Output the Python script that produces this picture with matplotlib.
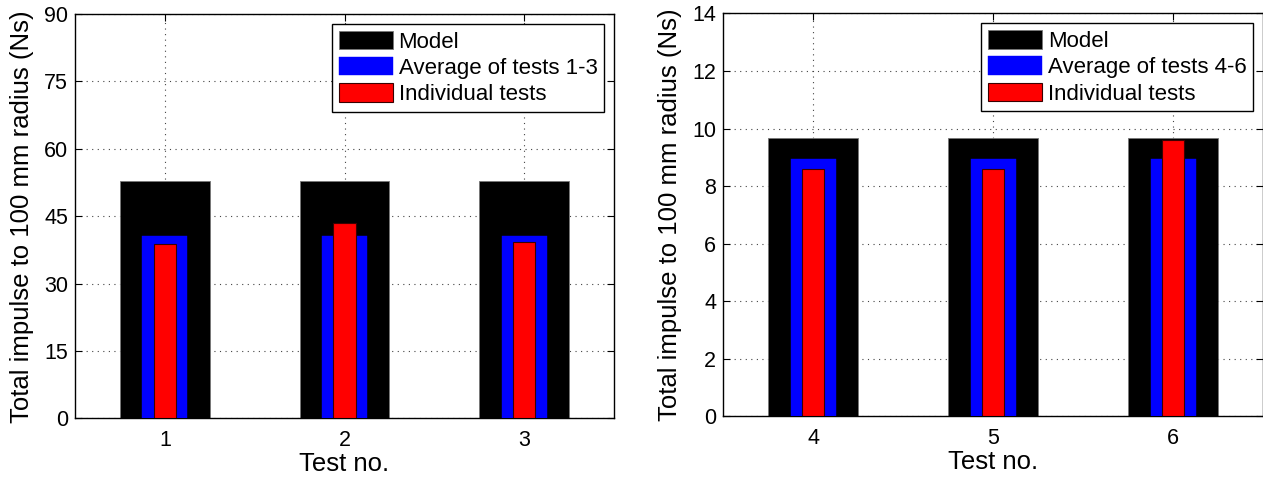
import numpy as np
import matplotlib.pyplot as plt

plt.rcParams['font.family'] = ['Liberation Sans', 'DejaVu Sans']

# impulse to 100 mm radius (Ns)
tests_a = [1, 2, 3]
model_a = [52.8, 52.8, 52.8]
avg_a = [40.6, 40.6, 40.6]
indiv_a = [38.8, 43.6, 39.3]

tests_b = [4, 5, 6]
model_b = [9.66, 9.66, 9.66]
avg_b = [8.93, 8.93, 8.93]
indiv_b = [8.60, 8.58, 9.62]

fig = plt.figure(figsize=(12.63, 4.78), dpi=100)
ax1 = fig.add_axes([0.0594, 0.1245, 0.4268, 0.8462])
ax2 = fig.add_axes([0.5725, 0.1287, 0.4276, 0.8431])


def draw(ax, tests, model, avg, indiv, ymax, yticks, avg_label):
    ax.bar(tests, model, width=0.5, color='black', edgecolor='#777777', linewidth=0.6,
           label='Model', zorder=2)
    ax.bar(tests, avg, width=0.25, color='#0000ff', edgecolor='#0000ff', linewidth=0.3,
           label=avg_label, zorder=3)
    ax.bar(tests, indiv, width=0.125, color='#ff0000', edgecolor='#3a0000', linewidth=0.8,
           label='Individual tests', zorder=4)
    ax.set_xlim(tests[0] - 0.5, tests[-1] + 0.5)
    ax.set_ylim(0, ymax)
    ax.set_xticks(tests)
    ax.set_yticks(yticks)
    ax.set_axisbelow(True)
    ax.grid(True, color='#444444', linestyle=(0, (1, 4)), linewidth=0.8)
    ax.tick_params(direction='in', length=5, width=0.8, top=True, right=True,
                   labelsize=15.5, pad=5)
    ax.tick_params(axis='x', pad=8)
    for s in ax.spines.values():
        s.set_linewidth(1.0)
    ax.set_xlabel('Test no.', fontsize=18.5, labelpad=1)
    ax.set_ylabel('Total impulse to 100 mm radius (Ns)', fontsize=18.5, labelpad=7)
    leg = ax.legend(loc='upper right', fontsize=16, fancybox=False, framealpha=1,
                    edgecolor='black', handlelength=2.45, handleheight=0.9,
                    handletextpad=0.25, labelspacing=0.2, borderpad=0.3,
                    borderaxespad=0.45)
    leg.get_frame().set_linewidth(1.0)


draw(ax1, tests_a, model_a, avg_a, indiv_a, 90, np.arange(0, 91, 15), 'Average of tests 1-3')
draw(ax2, tests_b, model_b, avg_b, indiv_b, 14, np.arange(0, 15, 2), 'Average of tests 4-6')

fig.savefig('out.png', dpi=100)
